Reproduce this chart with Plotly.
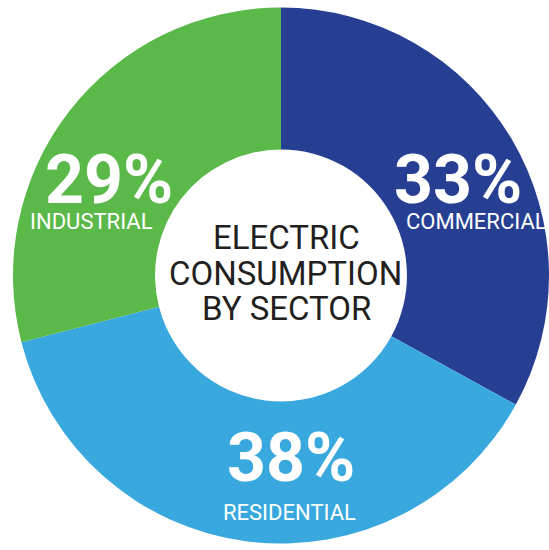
import plotly.graph_objects as go

# ---- data ----
sectors = ["COMMERCIAL", "RESIDENTIAL", "INDUSTRIAL"]
shares = [33, 38, 29]
center_title = ["ELECTRIC", "CONSUMPTION", "BY SECTOR"]

# ---- style ----
colors = ["#263f93", "#39a8de", "#5bb94a"]
W, H = 549, 550
FONT = "Roboto"

# label anchor positions in pixels (x, y from top): (percent, name)
label_px = {
    "COMMERCIAL": ((458, 180), (476, 222)),
    "RESIDENTIAL": ((291, 458), (289, 512)),
    "INDUSTRIAL": ((109, 180), (91, 222)),
}
title_px = [(286, 237), (285, 273), (286, 308.5)]


def px(x):
    return x / W


def py(y):
    return 1 - y / H


# pie: left edge at x 14, vertical extent y 7 .. 544
fig = go.Figure(
    go.Pie(
        labels=sectors,
        values=shares,
        sort=False,
        direction="clockwise",
        rotation=0,
        hole=0.47,
        marker=dict(colors=colors, line=dict(width=0)),
        textinfo="none",
        hoverinfo="label+value",
        showlegend=False,
        domain=dict(x=[px(13), 1.0], y=[py(544), py(7)]),
    )
)

annotations = []
for name, val in zip(sectors, shares):
    (ax, ay), (nx, ny) = label_px[name]
    annotations.append(dict(
        x=px(ax), y=py(ay), xref="paper", yref="paper",
        text=f"<b>{val}%</b>", showarrow=False,
        font=dict(family=FONT, size=68, color="white"),
        xanchor="center", yanchor="middle",
    ))
    annotations.append(dict(
        x=px(nx), y=py(ny), xref="paper", yref="paper",
        text=name, showarrow=False,
        font=dict(family=FONT, size=22, color="white"),
        xanchor="center", yanchor="middle",
    ))

for line, (tx, ty) in zip(center_title, title_px):
    annotations.append(dict(
        x=px(tx), y=py(ty), xref="paper", yref="paper",
        text=line, showarrow=False,
        font=dict(family=FONT, size=33, color="#231f20"),
        xanchor="center", yanchor="middle",
    ))

fig.update_layout(
    width=W, height=H,
    margin=dict(l=0, r=0, t=0, b=0),
    paper_bgcolor="white", plot_bgcolor="white",
    annotations=annotations,
)

fig.write_html(
    "out.html",
    config={"displayModeBar": False},
    post_script="document.body.style.margin='0';document.body.style.overflow='hidden';",
)
